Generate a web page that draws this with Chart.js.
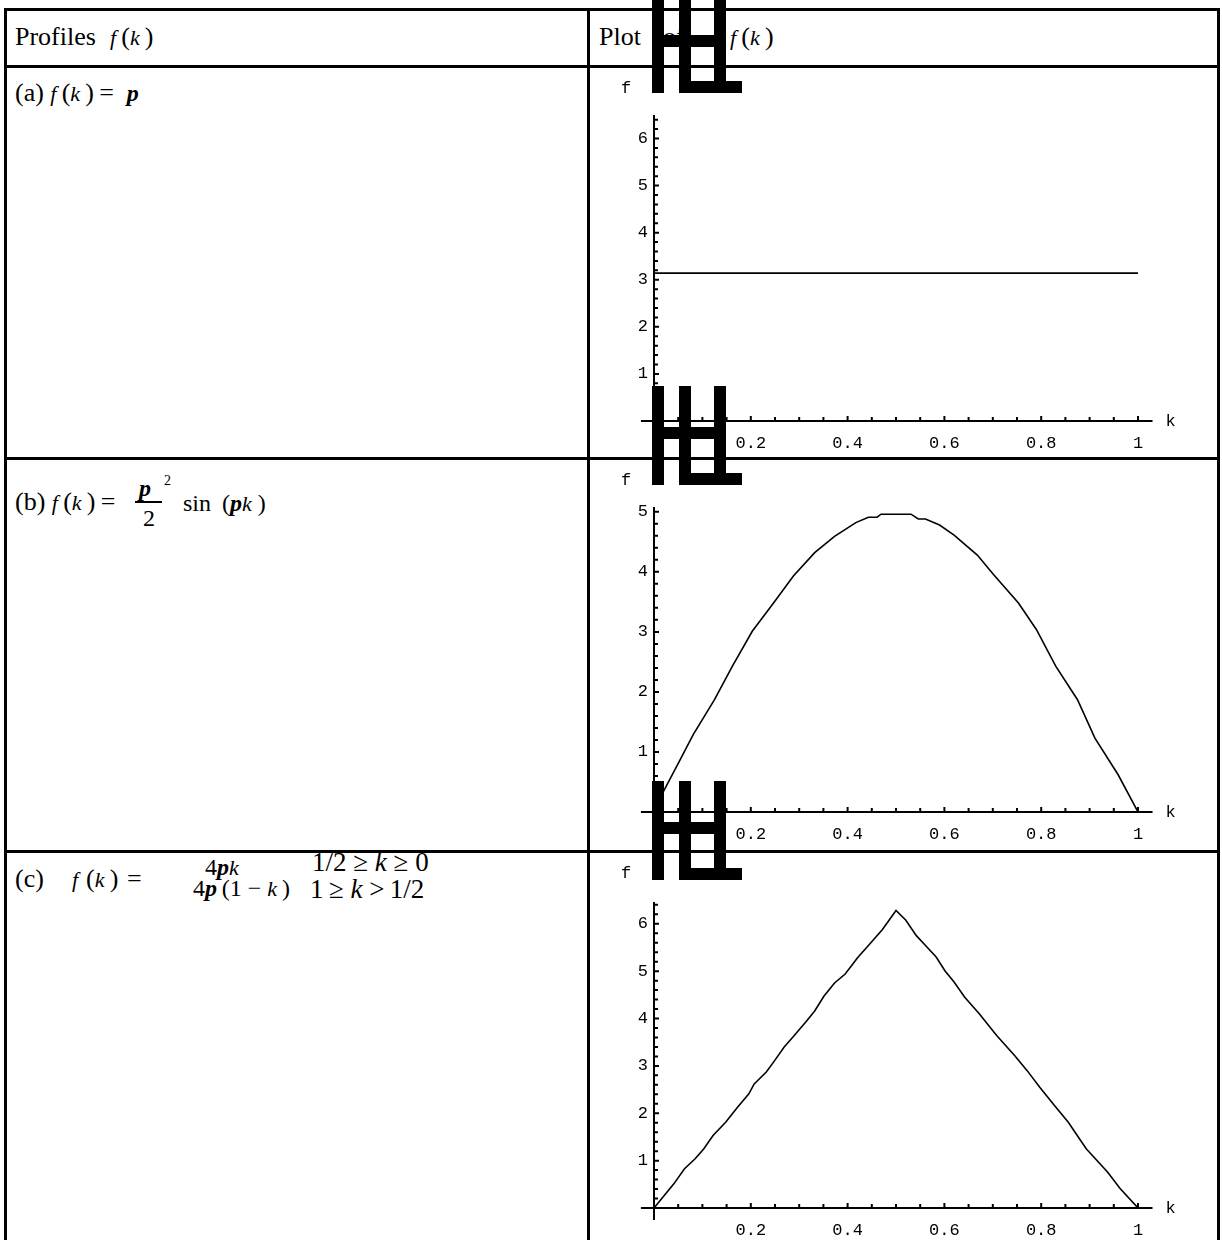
<!DOCTYPE html>
<html>
<head>
<meta charset="utf-8">
<title>Profiles f(k)</title>
<script src="https://cdn.jsdelivr.net/npm/chart.js@4.4.1/dist/chart.umd.min.js"></script>
<style>
  html, body { margin: 0; padding: 0; background: #fff; }
  #page { position: relative; width: 1222px; height: 1240px; overflow: hidden;
          font-family: "Liberation Serif", "Times New Roman", serif; color: #000; }
  .rule { position: absolute; background: #000; }
  .t { position: absolute; white-space: nowrap; line-height: 1; font-size: 26px; }
  .i { font-style: italic; font-size: 22px; }
  .p { font-style: italic; font-weight: bold; font-size: 24px; }
  canvas { position: absolute; }
  .glyph { position: absolute; background: #000; }
</style>
</head>
<body>
<div id="page">
  <!-- table rules -->
  <div class="rule" style="left:4px;top:8px;width:1216px;height:3px"></div>
  <div class="rule" style="left:4px;top:65px;width:1216px;height:3px"></div>
  <div class="rule" style="left:4px;top:457px;width:1216px;height:3px"></div>
  <div class="rule" style="left:4px;top:850px;width:1216px;height:3px"></div>
  <div class="rule" style="left:4px;top:8px;width:3px;height:1232px"></div>
  <div class="rule" style="left:587px;top:8px;width:3px;height:1232px"></div>
  <div class="rule" style="left:1217px;top:8px;width:3px;height:1232px"></div>

  <!-- header -->
  <div class="t" style="left:15px;top:24px">Profiles<span class="i" style="margin-left:14px">f</span>&thinsp;(<span class="i">k</span>&thinsp;)</div>
  <div class="t" style="left:599px;top:24px">Plot</div>
  <div class="t" style="left:663px;top:24px">of</div>
  <div class="t" style="left:730px;top:24px"><span class="i">f</span>&thinsp;(<span class="i">k</span>&thinsp;)</div>

  <!-- (a) -->
  <div class="t" style="left:15px;top:80px">(a) <span class="i">f</span>&thinsp;(<span class="i">k</span>&thinsp;)&thinsp;=&nbsp; <span class="p">p</span></div>

  <!-- (b) -->
  <div class="t" style="left:15px;top:489px">(b) <span class="i">f</span>&thinsp;(<span class="i">k</span>&thinsp;)&thinsp;=</div>
  <div class="t" style="left:139px;top:475px"><span class="p">p</span></div>
  <div class="t" style="left:164px;top:474px;font-size:14px">2</div>
  <div class="rule" style="left:135px;top:501px;width:27px;height:1.5px"></div>
  <div class="t" style="left:143px;top:506px;font-size:24px">2</div>
  <div class="t" style="left:183px;top:491px;font-size:24px">sin</div>
  <div class="t" style="left:222px;top:491px;font-size:24px">(<span class="p">p</span><span class="i">k</span>&nbsp;)</div>

  <!-- (c) -->
  <div class="t" style="left:15px;top:866px">(c)</div>
  <div class="t" style="left:72px;top:866px"><span class="i">f</span></div>
  <div class="t" style="left:86px;top:866px">(<span class="i">k</span>&thinsp;)</div>
  <div class="t" style="left:127px;top:866px">=</div>
  <div class="t" style="left:205px;top:855px;font-size:24px">4<span class="p">p</span><span class="i">k</span></div>
  <div class="t" style="left:193px;top:876px;font-size:24px">4<span class="p">p</span>&thinsp;(1 &minus; <span class="i">k</span>&thinsp;)</div>
  <div class="t" style="left:312px;top:849px;font-size:27px">1/2 &ge; <span class="i" style="font-size:27px">k</span> &ge; 0</div>
  <div class="t" style="left:310px;top:876px;font-size:27px">1&thinsp;&ge;&nbsp;<span class="i" style="font-size:27px">k</span>&nbsp;&gt;&thinsp;1/2</div>

  <canvas id="plotA" width="627" height="389" style="left:590px;top:68px"></canvas>
  <canvas id="plotB" width="627" height="390" style="left:590px;top:460px"></canvas>
  <canvas id="plotC" width="627" height="387" style="left:590px;top:853px"></canvas>

  <!-- broken axis-label glyphs -->
  <div id="glyphs"></div>
</div>

<script>
// profile (a): constant pi
const kA = [0, 1];
const fA = [3.1416, 3.1416];

// profile (b): sampled pi^2/2 sin(pi k)
const kB = [0, 0.018, 0.052, 0.081, 0.125, 0.162, 0.203, 0.247, 0.288, 0.332, 0.373, 0.417,
            0.443, 0.461, 0.469, 0.531, 0.546, 0.561, 0.590, 0.620, 0.668, 0.701, 0.753,
            0.790, 0.830, 0.875, 0.911, 0.959, 1.0];
const fB = [0, 0.32, 0.84, 1.29, 1.87, 2.43, 3.01, 3.48, 3.93, 4.32, 4.59, 4.82,
            4.91, 4.91, 4.96, 4.96, 4.88, 4.88, 4.78, 4.61, 4.28, 3.96, 3.48,
            3.04, 2.43, 1.87, 1.23, 0.62, 0];

// profile (c): triangle peaking at 2 pi
const kC = [0, 0.041, 0.063, 0.085, 0.103, 0.122, 0.148, 0.173, 0.196, 0.207, 0.232, 0.247,
            0.269, 0.288, 0.314, 0.332, 0.351, 0.373, 0.395, 0.421, 0.443, 0.472, 0.500,
            0.520, 0.542, 0.561, 0.583, 0.601, 0.620, 0.642, 0.672, 0.708, 0.745, 0.771,
            0.797, 0.827, 0.856, 0.893, 0.937, 0.963, 1.0];
const fC = [0, 0.51, 0.83, 1.04, 1.25, 1.53, 1.81, 2.13, 2.41, 2.62, 2.87, 3.08,
            3.40, 3.62, 3.93, 4.16, 4.47, 4.75, 4.94, 5.29, 5.54, 5.88, 6.28,
            6.08, 5.75, 5.54, 5.30, 5.01, 4.77, 4.45, 4.10, 3.64, 3.22, 2.90,
            2.55, 2.17, 1.81, 1.25, 0.76, 0.41, 0];

const kTicks = [0.2, 0.4, 0.6, 0.8, 1];
const kTickLabels = ['0.2', '0.4', '0.6', '0.8', '1'];
const fTicksA = [1, 2, 3, 4, 5, 6];
const fTicksB = [1, 2, 3, 4, 5];
const fTicksC = [1, 2, 3, 4, 5, 6];

const MONO = '17px "Liberation Mono", "DejaVu Sans Mono", monospace';

// axes crossing at the origin with inward ticks, Mathematica style
const crossedAxes = {
  id: 'crossedAxes',
  beforeDatasetsDraw(chart, args, opts) {
    const ctx = chart.ctx;
    const xs = chart.scales.x, ys = chart.scales.y;
    const x0 = xs.getPixelForValue(0);
    const y0 = ys.getPixelForValue(0);
    const kEnd = xs.getPixelForValue(1.03);

    ctx.save();
    ctx.strokeStyle = '#000';
    ctx.lineWidth = 2;
    ctx.beginPath();
    ctx.moveTo(xs.getPixelForValue(-0.027), y0);
    ctx.lineTo(kEnd, y0);
    ctx.moveTo(x0, y0 + 12);
    ctx.lineTo(x0, ys.getPixelForValue(ys.max));
    ctx.stroke();

    ctx.beginPath();
    for (let i = 1; i <= 20; i++) {
      const px = xs.getPixelForValue(i * 0.05);
      const len = i % 4 === 0 ? 5 : 4;
      ctx.moveTo(px, y0);
      ctx.lineTo(px, y0 - len);
    }
    for (let i = 1; i * 0.2 <= ys.max; i++) {
      const py = ys.getPixelForValue(i * 0.2);
      const len = i % 5 === 0 ? 5 : 4;
      ctx.moveTo(x0, py);
      ctx.lineTo(x0 + len, py);
    }
    ctx.stroke();

    ctx.fillStyle = '#000';
    ctx.font = MONO;
    ctx.textBaseline = 'middle';
    ctx.textAlign = 'center';
    kTicks.forEach((v, i) => ctx.fillText(kTickLabels[i], xs.getPixelForValue(v), y0 + 22));
    ctx.textAlign = 'right';
    opts.fTicks.forEach(v => ctx.fillText(String(v), x0 - 6, ys.getPixelForValue(v)));
    ctx.textAlign = 'left';
    ctx.fillText('k', kEnd + 13, y0);
    ctx.textAlign = 'center';
    ctx.fillText('f', 36, 20);
    ctx.restore();
  }
};

function drawProfile(id, ks, fs, fMax, fTicks, pad) {
  new Chart(document.getElementById(id), {
    type: 'line',
    data: {
      datasets: [{
        data: ks.map((k, i) => ({ x: k, y: fs[i] })),
        borderColor: '#000',
        borderWidth: 1.6,
        pointRadius: 0,
        tension: 0,
        fill: false
      }]
    },
    options: {
      responsive: false,
      animation: false,
      devicePixelRatio: 1,
      layout: { padding: pad },
      scales: {
        x: { type: 'linear', min: 0, max: 1, display: false },
        y: { type: 'linear', min: 0, max: fMax, display: false }
      },
      plugins: {
        legend: { display: false },
        tooltip: { enabled: false },
        crossedAxes: { fTicks: fTicks }
      }
    },
    plugins: [crossedAxes]
  });
}

drawProfile('plotA', kA, fA, 6.5, fTicksA, { left: 64, right: 79, top: 47, bottom: 36 });
drawProfile('plotB', kB, fB, 5.08, fTicksB, { left: 64, right: 79, top: 47, bottom: 38 });
drawProfile('plotC', kC, fC, 6.46, fTicksC, { left: 64, right: 79, top: 49, bottom: 32 });

// the "f[k]" labels came out as a broken block glyph; same shape at each plot top
const glyphTops = [-6, 386, 781];
const glyphParts = [
  [652, 0, 12, 99], [679, 0, 12, 99], [714, 0, 12, 99],
  [652, 41, 74, 12], [679, 87, 63, 12]
];
const holder = document.getElementById('glyphs');
glyphTops.forEach(top => {
  glyphParts.forEach(([x, dy, w, h]) => {
    const d = document.createElement('div');
    d.className = 'glyph';
    d.style.cssText = `left:${x}px;top:${top + dy}px;width:${w}px;height:${h}px`;
    holder.appendChild(d);
  });
});
</script>
</body>
</html>
